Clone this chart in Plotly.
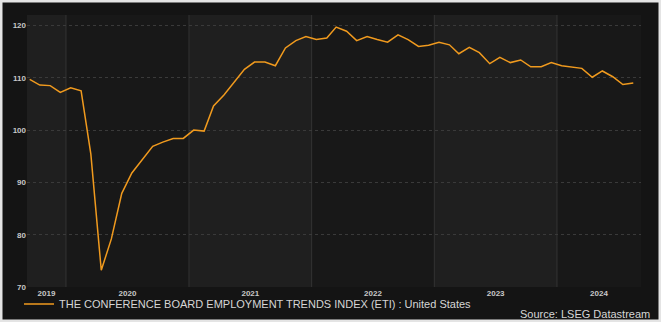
import pandas as pd
import plotly.graph_objects as go

# ---- data (monthly, Sep 2019 - Aug 2024) ----
start_month = "2019-09"
eti_values = [
    109.7, 108.6, 108.5, 107.2,                                                  # 2019 Sep-Dec
    108.1, 107.5, 95.4, 73.2, 79.2, 87.9, 91.8, 94.4, 96.9, 97.7, 98.4, 98.4,    # 2020
    100.0, 99.8, 104.6, 106.7, 109.2, 111.6, 113.0, 113.0, 112.3, 115.7, 117.1, 117.9,  # 2021
    117.3, 117.6, 119.7, 118.9, 117.1, 117.9, 117.3, 116.8, 118.2, 117.3, 116.0, 116.2,  # 2022
    116.8, 116.3, 114.6, 115.8, 114.8, 112.7, 113.9, 112.9, 113.4, 112.1, 112.1, 112.9,  # 2023
    112.3, 112.0, 111.8, 110.1, 111.3, 110.2, 108.7, 109.0,                      # 2024 Jan-Aug
]
series_name = "THE CONFERENCE BOARD EMPLOYMENT TRENDS INDEX (ETI) : United States"
years = [2019, 2020, 2021, 2022, 2023, 2024]
y_ticks = [70, 80, 90, 100, 110, 120]
source_text = "Source: LSEG Datastream"

dates = pd.date_range(start_month + "-01", periods=len(eti_values), freq="MS") + pd.Timedelta(days=14)

x_range = [pd.Timestamp("2019-09-07"), pd.Timestamp("2024-09-07")]
y_range = [70, 122]

W, H = 661, 322
ML, MR, MT, MB = 27, 20, 15, 35
PW, PH = W - ML - MR, H - MT - MB

def px_to_paper_x(px):
    return (px - ML) / PW

def px_to_paper_y(py):
    return (H - MB - py) / PH

# tick labels at the middle of each visible year
tick_vals, tick_text = [], []
for yr in years:
    a = max(pd.Timestamp(f"{yr}-01-01"), x_range[0])
    b = min(pd.Timestamp(f"{yr + 1}-01-01"), x_range[1])
    tick_vals.append(a + (b - a) / 2)
    tick_text.append(str(yr))

LINE = "#F09A1E"
BAND_LIGHT = "#1f1f1f"
BAND_DARK = "#181818"
FRAME = "#141414"
TXT = "#c8c8c8"

fig = go.Figure()
fig.add_trace(go.Scatter(
    x=dates, y=eti_values, mode="lines", name=series_name,
    line=dict(color=LINE, width=1.5), showlegend=True,
))

shapes = []
# alternating year bands + year separators
for i, yr in enumerate(years):
    a = max(pd.Timestamp(f"{yr}-01-01"), x_range[0])
    b = min(pd.Timestamp(f"{yr + 1}-01-01"), x_range[1])
    if i % 2 == 0:
        shapes.append(dict(type="rect", xref="x", yref="paper", x0=a, x1=b, y0=0, y1=1,
                           fillcolor=BAND_LIGHT, line=dict(width=0), layer="below"))
    if i > 0:
        shapes.append(dict(type="line", xref="x", yref="paper",
                           x0=pd.Timestamp(f"{yr}-01-01"), x1=pd.Timestamp(f"{yr}-01-01"),
                           y0=0, y1=1, line=dict(color="#333333", width=1), layer="below"))
# outer light frame
shapes.append(dict(type="rect", xref="paper", yref="paper",
                   x0=px_to_paper_x(0), x1=px_to_paper_x(W),
                   y0=px_to_paper_y(H), y1=px_to_paper_y(0),
                   fillcolor="rgba(0,0,0,0)", line=dict(color="#e4e4e4", width=5), layer="above"))

fig.update_layout(
    width=W, height=H,
    margin=dict(l=ML, r=MR, t=MT, b=MB, autoexpand=False),
    paper_bgcolor=FRAME, plot_bgcolor=BAND_DARK,
    shapes=shapes,
    font=dict(family="Liberation Sans, Arial, sans-serif", color=TXT),
    showlegend=True,
    legend=dict(orientation="h", x=px_to_paper_x(19), y=px_to_paper_y(304), yanchor="middle",
                xanchor="left", font=dict(size=11, color="#d6d6d6"),
                bgcolor="rgba(0,0,0,0)", itemwidth=30),
    annotations=[dict(text=source_text, xref="paper", yref="paper",
                      x=px_to_paper_x(652), y=px_to_paper_y(314), xanchor="right", yanchor="middle",
                      showarrow=False, font=dict(size=11, color="#d6d6d6"))],
    xaxis=dict(range=x_range, tickvals=tick_vals, ticktext=tick_text, showgrid=False,
               zeroline=False, showline=False, ticks="",
               tickfont=dict(size=8, color=TXT, weight="bold")),
    yaxis=dict(range=y_range, tickvals=y_ticks, showgrid=True, gridcolor="#3a3a3a",
               griddash="dot", gridwidth=1, zeroline=False, showline=False, ticks="",
               tickfont=dict(size=8, color=TXT, weight="bold")),
)

fig.write_html("out.html", config={"displayModeBar": False})
